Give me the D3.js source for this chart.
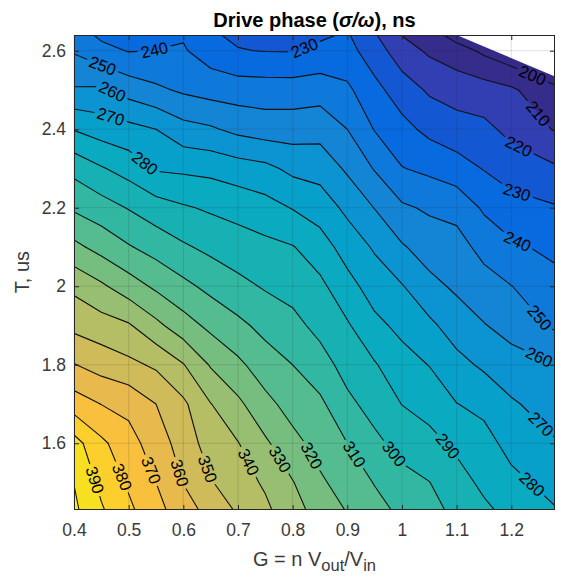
<!DOCTYPE html>
<html><head><meta charset="utf-8">
<script src="https://cdn.jsdelivr.net/npm/d3@7"></script>
<style>
body{margin:0;background:#fff}
svg{display:block}
text{font-family:"Liberation Sans",Arial,Helvetica,sans-serif}
</style>
</head><body>
<svg id="chart" width="561" height="577"></svg>
<script>
// ---------------- data ----------------
const xs = [0.4, 0.45, 0.5, 0.55, 0.6, 0.65, 0.7, 0.75, 0.8, 0.85, 0.9, 0.95, 1.0, 1.05, 1.1, 1.15, 1.2, 1.28]; // G grid
const ys = [1.43, 1.5, 1.6, 1.7, 1.8, 1.9, 2.0, 2.1, 2.2, 2.3, 2.4, 2.5, 2.6, 2.64];                            // T grid (us)
// drive phase (ns): one row per T value (ascending), one column per G value
const z = [
  [402.0, 391.1, 382.0, 373.2, 364.6, 356.4, 348.7, 342.0, 333.8, 326.0, 319.4, 313.4, 307.8, 303.0, 297.7, 291.9, 287.0, 280.6],
  [399.8, 387.5, 378.6, 370.0, 359.7, 350.7, 344.5, 338.6, 330.5, 321.5, 315.9, 309.5, 303.3, 300.2, 294.0, 287.8, 282.6, 276.6],
  [394.0, 382.0, 373.9, 365.0, 355.8, 345.3, 340.4, 331.6, 322.9, 316.5, 310.0, 302.3, 296.6, 293.1, 287.9, 283.4, 276.8, 270.8],
  [375.0, 369.8, 367.1, 360.0, 351.9, 340.3, 332.1, 322.8, 316.2, 312.0, 302.3, 296.3, 289.8, 286.3, 280.2, 277.5, 271.3, 265.1],
  [360.4, 356.0, 352.4, 348.4, 340.5, 329.1, 322.1, 314.8, 310.0, 304.1, 296.3, 290.8, 283.8, 279.7, 273.1, 268.3, 263.8, 260.1],
  [347.4, 344.3, 341.1, 332.5, 324.3, 317.6, 312.4, 307.0, 302.9, 297.1, 291.1, 282.5, 277.5, 272.1, 265.3, 260.5, 256.6, 248.4],
  [337.7, 331.6, 324.7, 318.2, 312.5, 307.3, 302.7, 299.0, 296.5, 292.3, 283.5, 275.5, 270.6, 262.9, 258.3, 254.0, 250.2, 243.3],
  [322.5, 316.5, 310.8, 306.1, 301.3, 297.6, 294.7, 292.5, 290.5, 284.6, 275.7, 268.8, 261.0, 255.5, 253.7, 246.9, 241.7, 237.6],
  [308.5, 304.3, 299.4, 294.5, 291.1, 288.6, 286.5, 283.7, 279.5, 275.3, 267.7, 259.7, 251.5, 248.6, 246.9, 238.5, 233.9, 230.8],
  [297.0, 290.9, 285.9, 278.9, 278.1, 277.2, 274.6, 272.6, 267.5, 266.2, 258.4, 249.3, 240.4, 237.8, 234.1, 229.5, 225.1, 221.3],
  [279.5, 275.5, 273.1, 270.0, 263.5, 261.3, 257.4, 255.2, 255.3, 256.3, 250.0, 239.5, 233.1, 227.4, 224.4, 222.4, 217.3, 209.3],
  [261.0, 261.6, 256.0, 251.9, 248.5, 246.2, 245.2, 244.9, 244.8, 245.7, 241.9, 232.9, 225.0, 218.6, 215.4, 214.4, 211.6, 201.8],
  [249.0, 243.1, 239.5, 240.1, 241.0, 235.0, 230.4, 229.7, 229.5, 232.2, 233.4, 224.7, 214.5, 208.4, 204.6, 198.0, 192.4, 187.6],
  [245.0, 238.0, 237.0, 238.5, 239.0, 231.0, 228.5, 228.0, 227.0, 228.5, 231.0, 221.0, 209.7, 205.0, 195.4, 193.0, 190.0, 186.0]
];
const levels = d3.range(200, 401, 10);
const colorRange = [199, 402];
// region without data (upper right corner) is left blank
const validRegion = [[0.4, 1.43], [0.4, 2.64], [1.1, 2.64], [1.28, 2.534], [1.28, 1.43]];
const xTicks = [0.4, 0.5, 0.6, 0.7, 0.8, 0.9, 1.0, 1.1, 1.2];
const yTicks = [1.6, 1.8, 2.0, 2.2, 2.4, 2.6];
// contour label anchors [G, T, level]
const labelAt = [
  [0.435, 1.505, 390], [0.484, 1.512, 380], [0.539, 1.530, 370], [0.588, 1.522, 360],
  [0.636, 1.530, 350], [0.713, 1.548, 340], [0.773, 1.556, 330], [0.841, 1.573, 320],
  [0.908, 1.568, 310], [0.981, 1.568, 300], [1.078, 1.586, 290], [1.239, 1.497, 280],
  [1.252, 1.645, 270], [1.246, 1.805, 260], [1.252, 1.920, 250], [1.212, 2.116, 240],
  [1.210, 2.239, 230], [1.210, 2.346, 220], [1.234, 2.422, 210], [1.239, 2.538, 200],
  [0.451, 2.557, 250], [0.471, 2.499, 260], [0.466, 2.427, 270], [0.524, 2.303, 280],
  [0.548, 2.596, 240], [0.822, 2.606, 230]
];
// parula colormap stops
const parula = ["#352a87","#3243ba","#0363e1","#0d75dc","#1485d4","#0998d1","#06a7c6","#15b1b4",
  "#38b99e","#65be86","#92bf73","#b7bd64","#d9ba56","#f8bb44","#fcce2e","#f5e41d","#f9fb0e"];
const parulaPos = [0,4,8,12,16,20,24,28,32,36,40,44,48,52,56,60,63].map(k => k / 63);

// ---------------- chart ----------------
const FONT = "\"Liberation Sans\",Arial,Helvetica,sans-serif";
const svg = d3.select("#chart");
const M = {left: 74, right: 555, top: 35, bottom: 510};
const x = d3.scaleLinear().domain([0.4, 1.28]).range([M.left, M.right]);
const y = d3.scaleLinear().domain([1.43, 2.64]).range([M.bottom, M.top]);
const cmap = d3.scaleLinear().domain(parulaPos).range(parula).interpolate(d3.interpolateRgb);
const color = v => cmap(Math.max(0, Math.min(1, (v - colorRange[0]) / (colorRange[1] - colorRange[0]))));

const n = xs.length, m = ys.length;
const ix = d3.scaleLinear().domain(d3.range(n)).range(xs).clamp(true);
const iy = d3.scaleLinear().domain(d3.range(m)).range(ys).clamp(true);
const PX = c => x(ix(c - 0.5));
const PY = c => y(iy(c - 0.5));

const contours = d3.contours().size([n, m]).thresholds(levels)(z.flat());

const defs = svg.append("defs");
defs.append("clipPath").attr("id", "valid")
  .append("path")
  .attr("d", "M" + validRegion.map(p => x(p[0]) + "," + y(p[1])).join("L") + "Z");

const plot = svg.append("g").attr("clip-path", "url(#valid)");
plot.append("rect").attr("x", M.left).attr("y", M.top)
  .attr("width", M.right - M.left).attr("height", M.bottom - M.top)
  .attr("fill", color(colorRange[0]));

const ringPath = ring => "M" + ring.map(p => PX(p[0]).toFixed(2) + "," + PY(p[1]).toFixed(2)).join("L") + "Z";
plot.selectAll("path.band").data(contours).join("path")
  .attr("class", "band")
  .attr("fill-rule", "evenodd")
  .attr("d", c => c.coordinates.map(poly => poly.map(ringPath).join("")).join(""))
  .attr("fill", c => color(c.value))
  .attr("stroke", c => color(c.value)).attr("stroke-width", 0.3);

// isolines: contour rings without the grid-boundary edges
const onB = p => p[0] === 0 || p[0] === n || p[1] === 0 || p[1] === m;
const iso = {};
contours.forEach(c => {
  const lines = [];
  c.coordinates.forEach(poly => poly.forEach(ring => {
    let cur = null;
    for (let k = 0; k < ring.length - 1; k++) {
      const a = ring[k], b = ring[k + 1];
      if (onB(a) || onB(b)) { cur = null; continue; }
      if (!cur) { cur = [[PX(a[0]), PY(a[1])]]; lines.push(cur); }
      cur.push([PX(b[0]), PY(b[1])]);
    }
  }));
  iso[c.value] = lines;
});

const mask = defs.append("mask").attr("id", "labmask").attr("maskUnits", "userSpaceOnUse")
  .attr("x", 0).attr("y", 0).attr("width", 561).attr("height", 577);
mask.append("rect").attr("x", 0).attr("y", 0).attr("width", 561).attr("height", 577).attr("fill", "#fff");

const lineG = plot.append("g").attr("mask", "url(#labmask)");
const lineGen = d3.line();
levels.forEach(v => {
  (iso[v] || []).forEach(pts => {
    lineG.append("path").attr("d", lineGen(pts)).attr("fill", "none")
      .attr("stroke", "#111").attr("stroke-width", 1.1).attr("stroke-linejoin", "round").attr("stroke-linecap", "round");
  });
});

// labels
const labG = plot.append("g");
labelAt.forEach(([gx, ty, v]) => {
  const ax = x(gx), ay = y(ty);
  let best = null;
  (iso[v] || []).forEach(pts => {
    for (let k = 0; k < pts.length - 1; k++) {
      const [x1, y1] = pts[k], [x2, y2] = pts[k + 1];
      const dx = x2 - x1, dy = y2 - y1, L = dx * dx + dy * dy;
      let t = L > 0 ? ((ax - x1) * dx + (ay - y1) * dy) / L : 0;
      t = Math.max(0, Math.min(1, t));
      const qx = x1 + t * dx, qy = y1 + t * dy;
      const d = (qx - ax) ** 2 + (qy - ay) ** 2;
      if (!best || d < best.d) best = {d, qx, qy, ang: Math.atan2(dy, dx) * 180 / Math.PI};
    }
  });
  let cx = ax, cy = ay, ang = 0;
  if (best && best.d < 900) { cx = best.qx; cy = best.qy; ang = best.ang; }
  if (ang > 90) ang -= 180;
  if (ang <= -90) ang += 180;
  const t = labG.append("text").attr("x", 0).attr("y", 0)
    .attr("transform", `translate(${cx},${cy}) rotate(${ang})`)
    .attr("text-anchor", "middle").attr("dy", "0.35em")
    .attr("font-size", 16.5).attr("fill", "#000").text(v);
  const w = t.node().getComputedTextLength();
  mask.append("rect").attr("x", -w / 2 - 3).attr("y", -8).attr("width", w + 6).attr("height", 16)
    .attr("transform", `translate(${cx},${cy}) rotate(${ang})`).attr("fill", "#000");
});

// grid
const grid = svg.append("g").attr("stroke", "#262626").attr("stroke-opacity", 0.15).attr("stroke-width", 1);
xTicks.forEach(t => grid.append("line").attr("x1", x(t)).attr("x2", x(t)).attr("y1", M.top).attr("y2", M.bottom));
yTicks.forEach(t => grid.append("line").attr("y1", y(t)).attr("y2", y(t)).attr("x1", M.left).attr("x2", M.right));

// axes
const fmt = d3.format("~g");
const axB = svg.append("g").attr("transform", `translate(0,${M.bottom})`)
  .call(d3.axisBottom(x).tickValues(xTicks).tickSize(-5).tickPadding(14).tickFormat(fmt));
const axL = svg.append("g").attr("transform", `translate(${M.left},0)`)
  .call(d3.axisLeft(y).tickValues(yTicks).tickSize(-5).tickPadding(8).tickFormat(fmt));
const axT = svg.append("g").attr("transform", `translate(0,${M.top})`)
  .call(d3.axisTop(x).tickValues(xTicks).tickSize(-5).tickFormat(""));
const axR = svg.append("g").attr("transform", `translate(${M.right},0)`)
  .call(d3.axisRight(y).tickValues(yTicks).tickSize(-5).tickFormat(""));
[axB, axL, axT, axR].forEach(a => {
  a.select(".domain").remove();
  a.selectAll(".tick line").attr("stroke", "#262626");
  a.selectAll("text").attr("font-size", 17.5).attr("fill", "#3a3a3a").attr("font-family", FONT);
});
svg.append("rect").attr("x", M.left + 0.5).attr("y", M.top + 0.5)
  .attr("width", M.right - M.left - 1).attr("height", M.bottom - M.top - 1)
  .attr("fill", "none").attr("stroke", "#262626").attr("stroke-width", 1);

// title
const title = svg.append("text").attr("x", (M.left + M.right) / 2).attr("y", 27)
  .attr("text-anchor", "middle").attr("font-size", 20).attr("font-weight", "bold").attr("fill", "#000");
title.append("tspan").text("Drive phase (");
title.append("tspan").attr("font-style", "italic").text("σ/ω");
title.append("tspan").text("), ns");

// axis labels
const xl = svg.append("text").attr("x", (M.left + M.right) / 2).attr("y", 566)
  .attr("text-anchor", "middle").attr("font-size", 20).attr("fill", "#3a3a3a");
xl.append("tspan").text("G = n V");
xl.append("tspan").attr("font-size", 16.5).attr("dy", 5).text("out");
xl.append("tspan").attr("dy", -5).text("/V");
xl.append("tspan").attr("font-size", 16.5).attr("dy", 5).text("in");

svg.append("text").attr("transform", "translate(29,272) rotate(-90)")
  .attr("text-anchor", "middle").attr("font-size", 20).attr("fill", "#3a3a3a").text("T, us");
</script>
</body></html>
